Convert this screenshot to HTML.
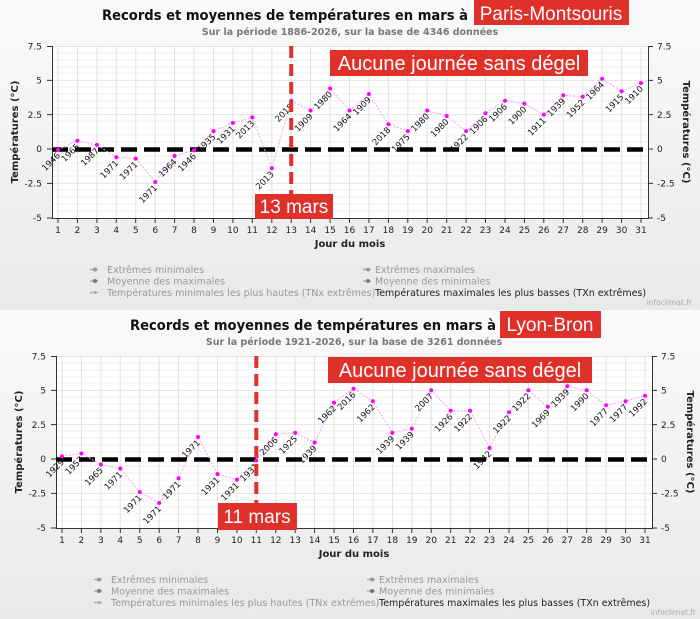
<!DOCTYPE html>
<html><head><meta charset="utf-8"><style>
html,body{margin:0;padding:0;width:700px;height:619px;overflow:hidden;background:#efefef}
svg{display:block;font-family:"DejaVu Sans","Liberation Sans",sans-serif}
</style></head><body>
<svg width="700" height="619" viewBox="0 0 700 619" xmlns="http://www.w3.org/2000/svg">
<defs>
<linearGradient id="bg" x1="0" y1="0" x2="0" y2="1"><stop offset="0" stop-color="#fafafa"/><stop offset="1" stop-color="#e9e9e9"/></linearGradient>
<g id="frame">
<rect x="52" y="46" width="596" height="172" fill="#fff"/>
<g stroke="#f1f1f1" stroke-width="1">
<path d="M52 53H648M52 60H648M52 67H648M52 73H648M52 87H648M52 94H648M52 101H648M52 108H648M52 121H648M52 128H648M52 135H648M52 142H648M52 156H648M52 163H648M52 170H648M52 176H648M52 190H648M52 197H648M52 204H648M52 211H648"/>
</g>
<g stroke="#e2e2e2" stroke-width="1">
<path d="M52 46.5H648M52 80.4H648M52 114.6H648M52 183.4H648"/>
<path d="M58 46V218M77.4 46V218M96.9 46V218M116.3 46V218M135.7 46V218M155.2 46V218M174.6 46V218M194 46V218M213.5 46V218M232.9 46V218M252.3 46V218M271.8 46V218M291.2 46V218M310.6 46V218M330.1 46V218M349.5 46V218M368.9 46V218M388.4 46V218M407.8 46V218M427.2 46V218M446.7 46V218M466.1 46V218M485.5 46V218M505 46V218M524.4 46V218M543.8 46V218M563.3 46V218M582.7 46V218M602.1 46V218M621.6 46V218M641 46V218"/>
</g>
<g stroke="#333" stroke-width="1" fill="none">
<path d="M52.5 46V218.5H648.5V46"/>
<path d="M47 46.5H52M47 80.4H52M47 114.6H52M47 149H52M47 183.4H52M47 218H52"/>
<path d="M648 46.5H653M648 80.4H653M648 114.6H653M648 149H653M648 183.4H653M648 218H653"/>
<path d="M58 218V223M77.4 218V223M96.9 218V223M116.3 218V223M135.7 218V223M155.2 218V223M174.6 218V223M194 218V223M213.5 218V223M232.9 218V223M252.3 218V223M271.8 218V223M291.2 218V223M310.6 218V223M330.1 218V223M349.5 218V223M368.9 218V223M388.4 218V223M407.8 218V223M427.2 218V223M446.7 218V223M466.1 218V223M485.5 218V223M505 218V223M524.4 218V223M543.8 218V223M563.3 218V223M582.7 218V223M602.1 218V223M621.6 218V223M641 218V223"/>
</g>
<g font-size="9" fill="#222" text-anchor="end">
<text x="42" y="49.5">7.5</text><text x="42" y="83.5">5</text><text x="42" y="118">2.5</text><text x="42" y="152">0</text><text x="42" y="186.5">-2.5</text><text x="42" y="221">-5</text>
</g>
<g font-size="9" fill="#222">
<text x="657" y="49.5">7.5</text><text x="657" y="83.5">5</text><text x="657" y="118">2.5</text><text x="657" y="152">0</text><text x="657" y="186.5">-2.5</text><text x="657" y="221">-5</text>
</g>
<g font-size="9" fill="#222" text-anchor="middle">
<text x="58" y="233">1</text><text x="77.4" y="233">2</text><text x="96.9" y="233">3</text><text x="116.3" y="233">4</text><text x="135.7" y="233">5</text><text x="155.2" y="233">6</text><text x="174.6" y="233">7</text><text x="194" y="233">8</text><text x="213.5" y="233">9</text><text x="232.9" y="233">10</text><text x="252.3" y="233">11</text><text x="271.8" y="233">12</text><text x="291.2" y="233">13</text><text x="310.6" y="233">14</text><text x="330.1" y="233">15</text><text x="349.5" y="233">16</text><text x="368.9" y="233">17</text><text x="388.4" y="233">18</text><text x="407.8" y="233">19</text><text x="427.2" y="233">20</text><text x="446.7" y="233">21</text><text x="466.1" y="233">22</text><text x="485.5" y="233">23</text><text x="505" y="233">24</text><text x="524.4" y="233">25</text><text x="543.8" y="233">26</text><text x="563.3" y="233">27</text><text x="582.7" y="233">28</text><text x="602.1" y="233">29</text><text x="621.6" y="233">30</text><text x="641" y="233">31</text>
</g>
<text x="350" y="247" font-size="10" font-weight="bold" text-anchor="middle" fill="#222">Jour du mois</text>
<text transform="translate(18,132) rotate(-90)" font-size="10" font-weight="bold" text-anchor="middle" fill="#222">Températures (°C)</text>
<text transform="translate(683,132) rotate(90)" font-size="10" font-weight="bold" text-anchor="middle" fill="#222">Températures (°C)</text>
<g font-size="9.5" fill="#999">
<path d="M90 269.5H100M90 281H100M90 292.5H100" stroke="#aaa" stroke-width="1.5" stroke-dasharray="3,2"/>
<circle cx="95" cy="269.5" r="2" fill="#999"/><circle cx="95" cy="281" r="2" fill="#777"/><circle cx="95" cy="292.5" r="1.3" fill="#999"/>
<text x="107" y="273">Extrêmes minimales</text>
<text x="107" y="284.5">Moyenne des maximales</text>
<text x="107" y="296">Températures minimales les plus hautes (TNx extrêmes)</text>
<path d="M363 269.5H373M363 281H373" stroke="#aaa" stroke-width="1.5" stroke-dasharray="3,2"/>
<circle cx="368" cy="269.5" r="2" fill="#999"/><circle cx="368" cy="281" r="2" fill="#777"/>
<text x="375" y="273">Extrêmes maximales</text>
<text x="375" y="284.5">Moyenne des minimales</text>
<text x="375" y="296" fill="#222">Températures maximales les plus basses (TXn extrêmes)</text>
</g>
<text x="692" y="305" font-size="7.5" fill="#aaa" text-anchor="end">infoclimat.fr</text>
</g>
</defs>

<rect x="0" y="0" width="700" height="310" fill="url(#bg)"/>
<rect x="0" y="310" width="700" height="309" fill="url(#bg)"/>

<!-- CHART 1 -->
<use href="#frame"/>
<text x="102" y="20" font-size="14.5" font-weight="bold" fill="#111" textLength="366" lengthAdjust="spacingAndGlyphs">Records et moyennes de températures en mars à</text>
<rect x="474" y="0" width="155" height="25" fill="#e0302a"/>
<text x="551" y="20" font-size="19" fill="#fff" text-anchor="middle" font-family="Liberation Sans,sans-serif">Paris-Montsouris</text>
<text x="350" y="35" font-size="9.5" font-weight="bold" text-anchor="middle" fill="#777">Sur la période 1886-2026, sur la base de 4346 données</text>
<path d="M52 149.5H648" stroke="#000" stroke-width="4.5" stroke-dasharray="16,7"/>
<polyline fill="none" stroke="#f6a0f6" stroke-width="1" stroke-dasharray="2,1.5" points="58,149.7 77.4,140.7 96.9,144.9 116.3,157.3 135.7,158.6 155.2,182 174.6,155.9 194,150.4 213.5,131.1 232.9,122.9 252.3,117.4 271.8,168.3 291.2,100.8 310.6,110.5 330.1,88.5 349.5,110.5 368.9,94 388.4,124.2 407.8,131.1 427.2,110.5 446.7,116 466.1,131.1 485.5,113.2 505,100.8 524.4,103.6 543.8,114.6 563.3,95.3 582.7,96.7 602.1,78.8 621.6,91.2 641,83"/>
<g fill="#f0f">
<circle cx="58" cy="149.7" r="2"/><circle cx="77.4" cy="140.7" r="2"/><circle cx="96.9" cy="144.9" r="2"/><circle cx="116.3" cy="157.3" r="2"/><circle cx="135.7" cy="158.6" r="2"/><circle cx="155.2" cy="182" r="2"/><circle cx="174.6" cy="155.9" r="2"/><circle cx="194" cy="150.4" r="2"/><circle cx="213.5" cy="131.1" r="2"/><circle cx="232.9" cy="122.9" r="2"/><circle cx="252.3" cy="117.4" r="2"/><circle cx="271.8" cy="168.3" r="2"/><circle cx="291.2" cy="100.8" r="2"/><circle cx="310.6" cy="110.5" r="2"/><circle cx="330.1" cy="88.5" r="2"/><circle cx="349.5" cy="110.5" r="2"/><circle cx="368.9" cy="94" r="2"/><circle cx="388.4" cy="124.2" r="2"/><circle cx="407.8" cy="131.1" r="2"/><circle cx="427.2" cy="110.5" r="2"/><circle cx="446.7" cy="116" r="2"/><circle cx="466.1" cy="131.1" r="2"/><circle cx="485.5" cy="113.2" r="2"/><circle cx="505" cy="100.8" r="2"/><circle cx="524.4" cy="103.6" r="2"/><circle cx="543.8" cy="114.6" r="2"/><circle cx="563.3" cy="95.3" r="2"/><circle cx="582.7" cy="96.7" r="2"/><circle cx="602.1" cy="78.8" r="2"/><circle cx="621.6" cy="91.2" r="2"/><circle cx="641" cy="83" r="2"/>
</g>
<g font-size="8.5" fill="#111" text-anchor="middle" transform="translate(-5,14)">
<text transform="translate(58,149.7) rotate(-45)">1946</text><text transform="translate(77.4,140.7) rotate(-45)">1965</text><text transform="translate(96.9,144.9) rotate(-45)">1987</text><text transform="translate(116.3,157.3) rotate(-45)">1971</text><text transform="translate(135.7,158.6) rotate(-45)">1971</text><text transform="translate(155.2,182) rotate(-45)">1971</text><text transform="translate(174.6,155.9) rotate(-45)">1964</text><text transform="translate(194,150.4) rotate(-45)">1946</text><text transform="translate(213.5,131.1) rotate(-45)">1935</text><text transform="translate(232.9,122.9) rotate(-45)">1931</text><text transform="translate(252.3,117.4) rotate(-45)">2013</text><text transform="translate(271.8,168.3) rotate(-45)">2013</text><text transform="translate(291.2,100.8) rotate(-45)">2015</text><text transform="translate(310.6,110.5) rotate(-45)">1909</text><text transform="translate(330.1,88.5) rotate(-45)">1980</text><text transform="translate(349.5,110.5) rotate(-45)">1964</text><text transform="translate(368.9,94) rotate(-45)">1909</text><text transform="translate(388.4,124.2) rotate(-45)">2018</text><text transform="translate(407.8,131.1) rotate(-45)">1975</text><text transform="translate(427.2,110.5) rotate(-45)">1980</text><text transform="translate(446.7,116) rotate(-45)">1980</text><text transform="translate(466.1,131.1) rotate(-45)">1922</text><text transform="translate(485.5,113.2) rotate(-45)">1906</text><text transform="translate(505,100.8) rotate(-45)">1906</text><text transform="translate(524.4,103.6) rotate(-45)">1900</text><text transform="translate(543.8,114.6) rotate(-45)">1911</text><text transform="translate(563.3,95.3) rotate(-45)">1939</text><text transform="translate(582.7,96.7) rotate(-45)">1952</text><text transform="translate(602.1,78.8) rotate(-45)">1964</text><text transform="translate(621.6,91.2) rotate(-45)">1915</text><text transform="translate(641,83) rotate(-45)">1910</text>
</g>
<path d="M291.2 46V218" stroke="#e0302a" stroke-width="4" stroke-dasharray="12,6"/>
<rect x="330" y="50" width="258" height="26" fill="#e0302a"/>
<text x="459" y="70" font-size="20" fill="#fff" text-anchor="middle" font-family="Liberation Sans,sans-serif">Aucune journée sans dégel</text>
<rect x="255" y="194" width="78" height="25" fill="#e0302a"/>
<text x="294" y="213" font-size="19" fill="#fff" text-anchor="middle" font-family="Liberation Sans,sans-serif">13 mars</text>

<!-- CHART 2 -->
<g transform="translate(4,310)">
<use href="#frame"/>
<path d="M52 149.5H648" stroke="#000" stroke-width="4.5" stroke-dasharray="16,7"/>
<polyline fill="none" stroke="#f6a0f6" stroke-width="1" stroke-dasharray="2,1.5" points="58,146.2 77.4,143.5 96.9,154.5 116.3,158.6 135.7,182 155.2,193 174.6,168.3 194,127 213.5,164.1 232.9,169.6 252.3,150.4 271.8,124.2 291.2,122.9 310.6,132.5 330.1,92.6 349.5,78.8 368.9,91.2 388.4,122.9 407.8,118.7 427.2,80.2 446.7,100.8 466.1,100.8 485.5,138 505,102.2 524.4,80.2 543.8,96.7 563.3,76.1 582.7,80.2 602.1,95.3 621.6,91.2 641,85.7"/>
<g fill="#f0f">
<circle cx="58" cy="146.2" r="2"/><circle cx="77.4" cy="143.5" r="2"/><circle cx="96.9" cy="154.5" r="2"/><circle cx="116.3" cy="158.6" r="2"/><circle cx="135.7" cy="182" r="2"/><circle cx="155.2" cy="193" r="2"/><circle cx="174.6" cy="168.3" r="2"/><circle cx="194" cy="127" r="2"/><circle cx="213.5" cy="164.1" r="2"/><circle cx="232.9" cy="169.6" r="2"/><circle cx="252.3" cy="150.4" r="2"/><circle cx="271.8" cy="124.2" r="2"/><circle cx="291.2" cy="122.9" r="2"/><circle cx="310.6" cy="132.5" r="2"/><circle cx="330.1" cy="92.6" r="2"/><circle cx="349.5" cy="78.8" r="2"/><circle cx="368.9" cy="91.2" r="2"/><circle cx="388.4" cy="122.9" r="2"/><circle cx="407.8" cy="118.7" r="2"/><circle cx="427.2" cy="80.2" r="2"/><circle cx="446.7" cy="100.8" r="2"/><circle cx="466.1" cy="100.8" r="2"/><circle cx="485.5" cy="138" r="2"/><circle cx="505" cy="102.2" r="2"/><circle cx="524.4" cy="80.2" r="2"/><circle cx="543.8" cy="96.7" r="2"/><circle cx="563.3" cy="76.1" r="2"/><circle cx="582.7" cy="80.2" r="2"/><circle cx="602.1" cy="95.3" r="2"/><circle cx="621.6" cy="91.2" r="2"/><circle cx="641" cy="85.7" r="2"/>
</g>
<g font-size="8.5" fill="#111" text-anchor="middle" transform="translate(-5,14)">
<text transform="translate(58,146.2) rotate(-45)">1929</text><text transform="translate(77.4,143.5) rotate(-45)">1957</text><text transform="translate(96.9,154.5) rotate(-45)">1965</text><text transform="translate(116.3,158.6) rotate(-45)">1971</text><text transform="translate(135.7,182) rotate(-45)">1971</text><text transform="translate(155.2,193) rotate(-45)">1971</text><text transform="translate(174.6,168.3) rotate(-45)">1971</text><text transform="translate(194,127) rotate(-45)">1971</text><text transform="translate(213.5,164.1) rotate(-45)">1931</text><text transform="translate(232.9,169.6) rotate(-45)">1931</text><text transform="translate(252.3,150.4) rotate(-45)">1931</text><text transform="translate(271.8,124.2) rotate(-45)">2006</text><text transform="translate(291.2,122.9) rotate(-45)">1925</text><text transform="translate(310.6,132.5) rotate(-45)">1939</text><text transform="translate(330.1,92.6) rotate(-45)">1962</text><text transform="translate(349.5,78.8) rotate(-45)">2016</text><text transform="translate(368.9,91.2) rotate(-45)">1962</text><text transform="translate(388.4,122.9) rotate(-45)">1939</text><text transform="translate(407.8,118.7) rotate(-45)">1939</text><text transform="translate(427.2,80.2) rotate(-45)">2007</text><text transform="translate(446.7,100.8) rotate(-45)">1926</text><text transform="translate(466.1,100.8) rotate(-45)">1922</text><text transform="translate(485.5,138) rotate(-45)">1942</text><text transform="translate(505,102.2) rotate(-45)">1922</text><text transform="translate(524.4,80.2) rotate(-45)">1922</text><text transform="translate(543.8,96.7) rotate(-45)">1969</text><text transform="translate(563.3,76.1) rotate(-45)">1939</text><text transform="translate(582.7,80.2) rotate(-45)">1990</text><text transform="translate(602.1,95.3) rotate(-45)">1977</text><text transform="translate(621.6,91.2) rotate(-45)">1977</text><text transform="translate(641,85.7) rotate(-45)">1992</text>
</g>
<path d="M252.3 46V218" stroke="#e0302a" stroke-width="4" stroke-dasharray="12,6"/>
</g>
<text x="130" y="330" font-size="14.5" font-weight="bold" fill="#111" textLength="366" lengthAdjust="spacingAndGlyphs">Records et moyennes de températures en mars à</text>
<rect x="500" y="311" width="101" height="27" fill="#e0302a"/>
<text x="550" y="331" font-size="19" fill="#fff" text-anchor="middle" font-family="Liberation Sans,sans-serif">Lyon-Bron</text>
<text x="354" y="345" font-size="9.5" font-weight="bold" text-anchor="middle" fill="#777">Sur la période 1921-2026, sur la base de 3261 données</text>
<rect x="328" y="357" width="264" height="26" fill="#e0302a"/>
<text x="460" y="377" font-size="20" fill="#fff" text-anchor="middle" font-family="Liberation Sans,sans-serif">Aucune journée sans dégel</text>
<rect x="218" y="503" width="79" height="27" fill="#e0302a"/>
<text x="257" y="523" font-size="19" fill="#fff" text-anchor="middle" font-family="Liberation Sans,sans-serif">11 mars</text>
</svg>
</body></html>
